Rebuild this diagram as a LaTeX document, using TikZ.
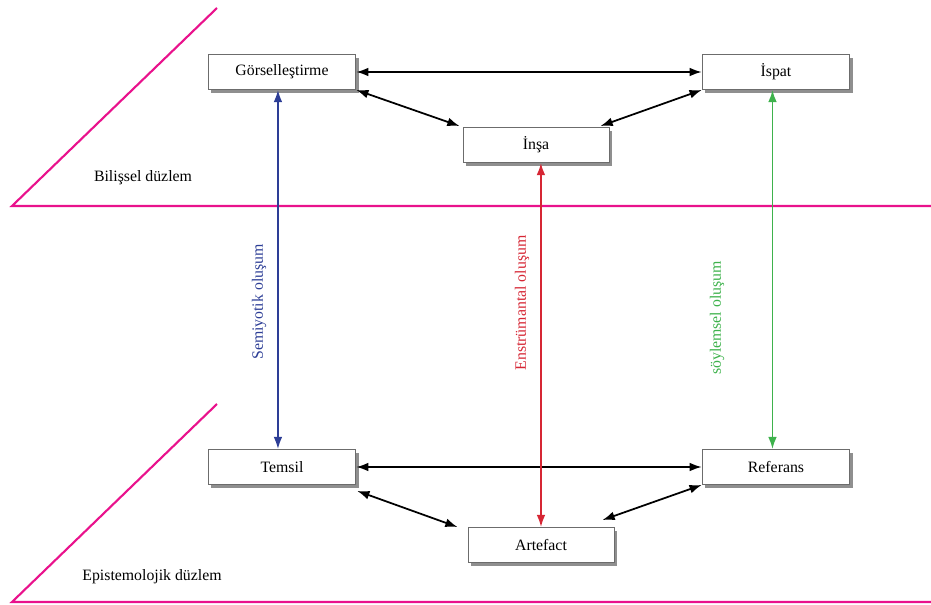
\documentclass[tikz,border=0pt]{standalone}
\usepackage{fontspec}
\setmainfont{Liberation Serif}
\usetikzlibrary{arrows.meta, shadows}
\definecolor{planepink}{RGB}{233,18,140}
\definecolor{semblue}{RGB}{45,62,150}
\definecolor{insred}{RGB}{214,38,52}
\definecolor{soygreen}{RGB}{62,178,76}

\begin{document}
\begin{tikzpicture}[x=0.02cm, y=-0.02cm,
    box/.style={draw=gray!85!black, fill=white, line width=0.5pt,
      minimum height=0.7cm, minimum width=2.95cm,
      font=\fontsize{9}{11}\selectfont,
      drop shadow={shadow xshift=1.8pt, shadow yshift=-1.8pt, fill=black!55, opacity=0.8}},
    link/.style={{Latex[length=7pt,width=5pt]}-{Latex[length=7pt,width=5pt]}, line width=1pt},
    plane/.style={draw=planepink, line width=1.2pt},
    lbl/.style={font=\fontsize{9}{11}\selectfont, rotate=90}]
      \useasboundingbox (0,0) rectangle (931,605);

      \draw[plane] (217,8) -- (12,206) -- (931,206);
      \draw[plane] (217,404) -- (12,602) -- (931,602);
      \node[font=\fontsize{9}{11}\selectfont] (bil) at (143,178) {Bilişsel düzlem};
      \node[font=\fontsize{9}{11}\selectfont] (epi) at (152,577) {Epistemolojik düzlem};

      \node[box] (gor) at (282,72) {Görselleştirme};
      \node[box] (isp) at (776,72) {İspat};
      \node[box, minimum width=2.92cm] (insa) at (536,145) {İnşa};
      \node[box] (tem) at (282,467) {Temsil};
      \node[box] (ref) at (776,467) {Referans};
      \node[box, minimum width=2.92cm] (art) at (541,545) {Artefact};

      \draw[link] (gor) -- (isp);
      \draw[link] (gor.south east) -- ([shift={(-3,-1)}]insa.north west);
      \draw[link] (isp.south west) -- ([shift={(-9,-1)}]insa.north east);
      \draw[link] (tem) -- (ref);
      \draw[link] ([shift={(1,6)}]tem.south east) -- ([shift={(-10,0)}]art.north west);
      \draw[link] (ref.south west) -- ([shift={(-12,-7)}]art.north east);

      \draw[link, semblue] ([xshift=-2.3pt]gor.south) -- ([xshift=-2.3pt]tem.north);
      \draw[link, insred] ([xshift=2.8pt]insa.south) -- (art.north);
      \draw[link, soygreen] ([xshift=-2pt]isp.south) -- ([xshift=-2pt]ref.north);
      \node[lbl, semblue] (semlbl) at (259,302) {Semiyotik oluşum};
      \node[lbl, insred] (inslbl) at (522,303) {Enstrümantal oluşum};
      \node[lbl, soygreen] (soylbl) at (717,318) {söylemsel oluşum};
\end{tikzpicture}
\end{document}
